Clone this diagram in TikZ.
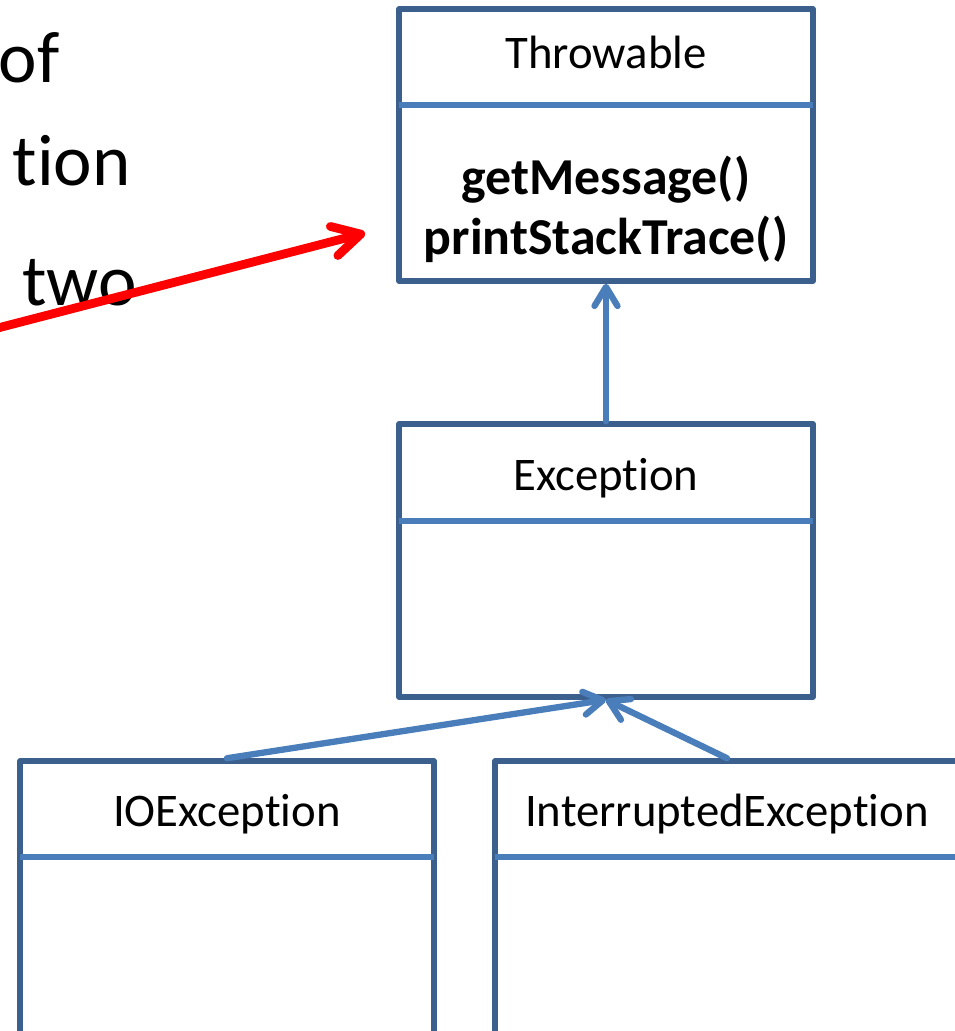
\documentclass[tikz,border=0pt]{standalone}
\usepackage{fontspec}
\setmainfont{Carlito}[Ligatures=NoCommon]
\usetikzlibrary{arrows.meta,positioning}
\definecolor{umlborder}{RGB}{60,96,142}
\definecolor{umlline}{RGB}{74,126,187}
\tikzset{
        % Class outline
        class_box/.style={rectangle, draw=umlborder, line width=3.2pt, line join=round, inner sep=0pt},
        % Rule between name and members
        class_rule/.style={draw=umlline, line width=3.2pt, shorten <=1.6pt, shorten >=1.6pt},
        % Class name
        class_name/.style={anchor=base, inner sep=0pt, font=\fontsize{26.6}{32}\selectfont},
        % Members
        class_method/.style={anchor=base, inner sep=0pt, font=\fontsize{29.5}{35}\selectfont\bfseries},
        % Bullet text of the slide
        slide_text/.style={anchor=base east, inner sep=0pt, font=\fontsize{41.5}{50}\selectfont},
        % Inheritance arrows
        inherit/.style={draw=umlline, line width=3.6pt, line cap=round, -{Straight Barb[length=0.38cm,width=0.46cm,round]}},
        % Red pointer
        pointer/.style={draw=red, line width=5pt, line cap=round, -{Straight Barb[length=0.55cm,width=0.6cm,round]}}
}

\begin{document}
\begin{tikzpicture}[x=0.02cm, y=-0.02cm]
    \useasboundingbox (0,0) rectangle (955,1031);
    \clip (0,0) rectangle (955,1031);

    % slide text
    \node[slide_text] (line_of) at (60,82) {of};
    \node[slide_text] (line_tion) at (131,185) {tion};
    \node[slide_text] (line_two) at (137,305) {two};

    % classes
    \node[class_box, minimum width=8.28cm, minimum height=5.44cm] (throwable) at (606,145) {};
    \draw[class_rule] (throwable.west |- 0,105) -- (throwable.east |- 0,105);
    \node[class_name] (throwable_name) at (606,68) {Throwable};
    \node[class_method] (get_message) at (606,194) {getMessage()};
    \node[class_method] (print_trace) at (606,254) {printStackTrace()};

    \node[class_box, minimum width=8.28cm, minimum height=5.46cm] (exception) at (606,560.5) {};
    \draw[class_rule] (exception.west |- 0,521) -- (exception.east |- 0,521);
    \node[class_name] (exception_name) at (606,490) {Exception};

    \node[class_box, minimum width=8.28cm, minimum height=5.68cm] (io_exception) at (227,903) {};
    \draw[class_rule] (io_exception.west |- 0,857) -- (io_exception.east |- 0,857);
    \node[class_name] (io_name) at (227,826) {IOException};

    \node[class_box, minimum width=9.28cm, minimum height=5.68cm] (interrupted) at (727,903) {};
    \draw[class_rule] (interrupted.west |- 0,857) -- (interrupted.east |- 0,857);
    \node[class_name] (interrupted_name) at (727,826) {InterruptedException};

    % inheritance
    \draw[inherit] (exception.north) -- (throwable.south);
    \draw[inherit] (io_exception.north) -- (exception.south);
    \draw[inherit] (interrupted.north) -- (exception.south);

    % pointer to the methods
    \coordinate (pointer_tail) at (-10,330);
    \coordinate (pointer_head) at (365,233);
    \draw[pointer] (pointer_tail) -- (pointer_head);
\end{tikzpicture}
\end{document}
